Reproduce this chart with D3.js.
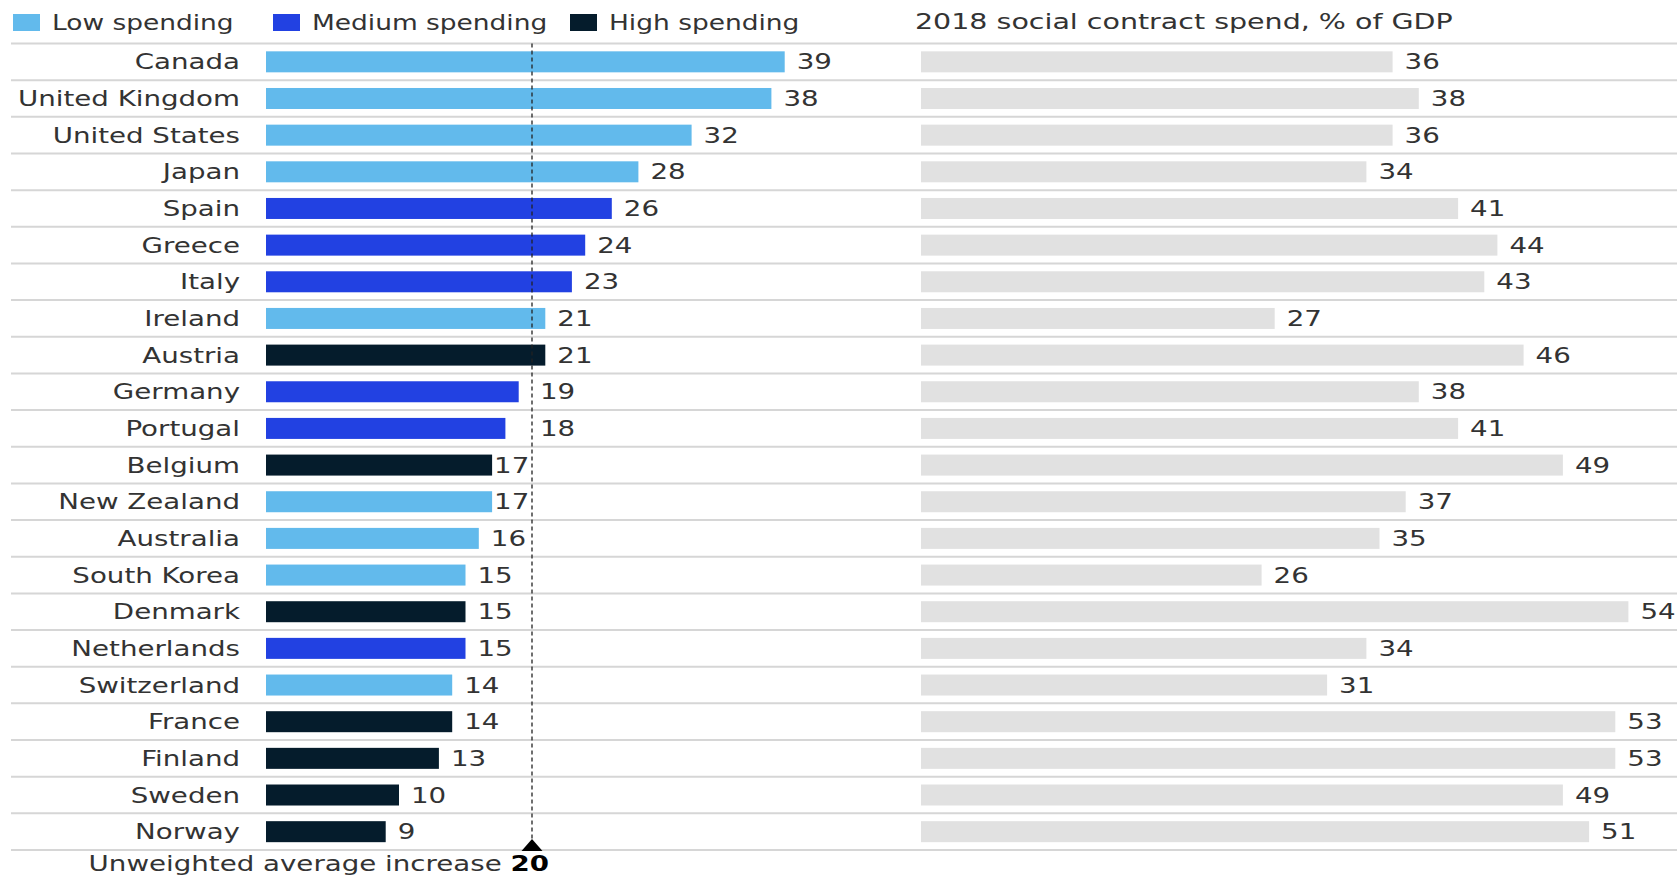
<!DOCTYPE html>
<html>
<head>
<meta charset="utf-8">
<script src="https://cdn.jsdelivr.net/npm/d3@7"></script>
<style>
  body { margin: 0; background: #fff; }
  svg text { font-family: "DejaVu Sans", sans-serif; fill: #333; }
</style>
</head>
<body>
<svg id="chart"></svg>
<script>
var width = 1677, height = 878;

// data
var countries = ["Canada", "United Kingdom", "United States", "Japan", "Spain", "Greece", "Italy",
  "Ireland", "Austria", "Germany", "Portugal", "Belgium", "New Zealand", "Australia", "South Korea",
  "Denmark", "Netherlands", "Switzerland", "France", "Finland", "Sweden", "Norway"];
var increase = [39, 38, 32, 28, 26, 24, 23, 21, 21, 19, 18, 17, 17, 16, 15, 15, 15, 14, 14, 13, 10, 9];
var spend2018 = [36, 38, 36, 34, 41, 44, 43, 27, 46, 38, 41, 49, 37, 35, 26, 54, 34, 31, 53, 53, 49, 51];
var spendGroup = ["low", "low", "low", "low", "med", "med", "med", "low", "high", "med", "med", "high",
  "low", "low", "low", "high", "med", "low", "high", "high", "high", "high"];
var avgIncrease = 20;

var groups = ["low", "med", "high"];
var groupNames = ["Low spending", "Medium spending", "High spending"];
var groupColors = ["#62baec", "#2241e2", "#051c2c"];

var SX = 1.35; // text in the source is drawn wide
var FS = 20.5;

var svg = d3.select("#chart").attr("width", width).attr("height", height);

var color = d3.scaleOrdinal().domain(groups).range(groupColors);

var y = d3.scaleBand().domain(countries).range([43.5, 850]).padding(0);
var barH = 21;

var xL = d3.scaleLinear().domain([0, 40]).range([266, 266 + 40 * 13.3]);
var xR = d3.scaleLinear().domain([0, 54]).range([921, 921 + 54 * 13.1]);

function addText(g, x, yy, txt, anchor, sx) {
  return g.append("text")
    .attr("transform", "translate(" + x + "," + yy + ") scale(" + (sx || SX) + ",1)")
    .attr("text-anchor", anchor || "start")
    .style("font-size", FS + "px")
    .text(txt);
}

// text width in screen px (after stretching)
function textW(txt) {
  var t = svg.append("text").style("font-size", FS + "px").text(txt);
  var w = t.node().getComputedTextLength() * SX;
  t.remove();
  return w;
}

// legend
var legendX = [13, 273, 570];
var legend = svg.append("g");
groups.forEach(function (g, i) {
  legend.append("rect")
    .attr("x", legendX[i]).attr("y", 14)
    .attr("width", 27).attr("height", 17)
    .attr("fill", color(g));
  addText(legend, legendX[i] + 39, 30, groupNames[i], "start", 1.29);
});
addText(svg, 915, 29, "2018 social contract spend, % of GDP", "start", 1.39);

// row separators
var lines = countries.map(function (c) { return y(c); });
lines.push(y.range()[1]);
svg.append("g").selectAll("line")
  .data(lines)
  .enter().append("line")
  .attr("x1", 11).attr("x2", width)
  .attr("y1", function (d) { return d; })
  .attr("y2", function (d) { return d; })
  .attr("stroke", "#d6d6d6")
  .attr("stroke-width", 2);

var rows = countries.map(function (c, i) {
  return { name: c, inc: increase[i], spend: spend2018[i], grp: spendGroup[i] };
});

function mid(d) { return y(d.name) + y.bandwidth() / 2; }

// country names
var lab = svg.append("g");
rows.forEach(function (d) { addText(lab, 240, mid(d) + 7.5, d.name, "end"); });

// left bars
svg.append("g").selectAll("rect")
  .data(rows)
  .enter().append("rect")
  .attr("x", xL(0))
  .attr("y", function (d) { return mid(d) - barH / 2; })
  .attr("width", function (d) { return xL(d.inc) - xL(0); })
  .attr("height", barH)
  .attr("fill", function (d) { return color(d.grp); });

// right bars
svg.append("g").selectAll("rect")
  .data(rows)
  .enter().append("rect")
  .attr("x", xR(0))
  .attr("y", function (d) { return mid(d) - barH / 2; })
  .attr("width", function (d) { return xR(d.spend) - xR(0); })
  .attr("height", barH)
  .attr("fill", "#e1e1e1");

// value labels, keep the left ones clear of the average line
var avgX = xL(avgIncrease);
var vals = svg.append("g");
rows.forEach(function (d) {
  var end = xL(d.inc);
  var w = textW(String(d.inc));
  var pos = end + 12;
  if (end < avgX && pos + w > avgX) {
    pos = (end + 2 + w <= avgX - 2) ? end + 2 : avgX + 8;
  }
  addText(vals, pos, mid(d) + 7.5, d.inc);
  addText(vals, xR(d.spend) + 12, mid(d) + 7.5, d.spend);
});

// average marker
var yBottom = y.range()[1];
svg.append("line")
  .attr("x1", avgX).attr("x2", avgX)
  .attr("y1", y.range()[0]).attr("y2", yBottom - 9)
  .attr("stroke", "#222")
  .attr("stroke-width", 1.3)
  .attr("stroke-dasharray", "4,3");

var tri = d3.path();
tri.moveTo(avgX, yBottom - 11);
tri.lineTo(avgX + 10.5, yBottom + 1);
tri.lineTo(avgX - 10.5, yBottom + 1);
tri.closePath();
svg.append("path").attr("d", tri.toString()).attr("fill", "#000");

var note = svg.append("text")
  .attr("transform", "translate(549,871) scale(" + SX + ",1)")
  .attr("text-anchor", "end")
  .style("font-size", FS + "px");
note.append("tspan").text("Unweighted average increase ");
note.append("tspan").style("font-weight", "bold").style("fill", "#000").text(avgIncrease);
</script>
</body>
</html>
